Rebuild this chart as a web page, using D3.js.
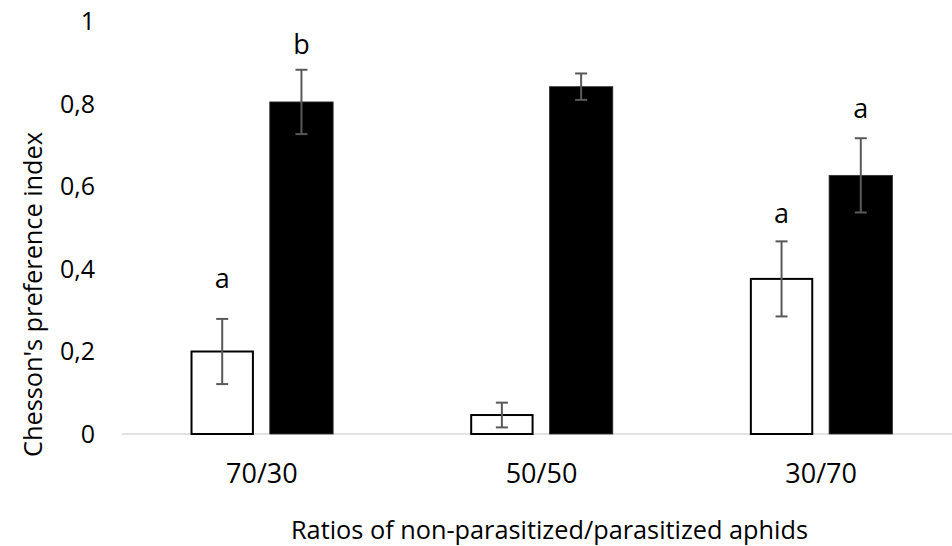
<!DOCTYPE html>
<html><head><meta charset="utf-8">
<script src="https://cdn.jsdelivr.net/npm/d3@7"></script>
<style>html,body{margin:0;padding:0;background:#fff;}svg{display:block;}</style>
</head><body><svg id="c" width="952" height="546"></svg>
<script>
const categories = ["70/30", "50/50", "30/70"];
const series = ["non-parasitized", "parasitized"];
const nonParasitized = [0.20, 0.046, 0.376];
const parasitized = [0.805, 0.842, 0.627];
const errNonParasitized = [0.079, 0.030, 0.091];
const errParasitized = [0.078, 0.032, 0.090];
const lettersNon = ["a", "", "a"];
const lettersPar = ["b", "", "a"];
const letterPosNon = [0.354, null, 0.512];
const letterPosPar = [0.921, null, 0.766];
const yTicks = [0, 0.2, 0.4, 0.6, 0.8, 1];
const yTickLabels = ["0", "0,2", "0,4", "0,6", "0,8", "1"];

const svg = d3.select("#c");
const font = "'Open Sans', 'Noto Sans', sans-serif";
const y = d3.scaleLinear().domain([0, 1]).range([434, 21.5]);
const x0 = d3.scaleBand().domain(categories).range([122, 961]).paddingInner(0.49).paddingOuter(0.245);
const x1 = d3.scaleBand().domain(series).range([0, x0.bandwidth()]).paddingInner(0.2);

const rows = categories.map((c, i) => ({
  cat: c,
  vals: [
    {s: series[0], v: nonParasitized[i], e: errNonParasitized[i], l: lettersNon[i], lp: letterPosNon[i]},
    {s: series[1], v: parasitized[i], e: errParasitized[i], l: lettersPar[i], lp: letterPosPar[i]}
  ]
}));

// baseline
svg.append("line").attr("x1", x0.range()[0]).attr("x2", 952)
  .attr("y1", y(0)).attr("y2", y(0)).attr("stroke", "#d9d9d9").attr("stroke-width", 1.5);

const g = svg.selectAll("g.grp").data(rows).join("g").attr("class", "grp")
  .attr("transform", d => `translate(${x0(d.cat)},0)`);

g.selectAll("rect").data(d => d.vals).join("rect")
  .attr("x", d => x1(d.s) + (d.s === series[0] ? 1 : 0))
  .attr("width", d => x1.bandwidth() - (d.s === series[0] ? 2 : 0))
  .attr("y", d => y(d.v))
  .attr("height", d => y(0) - y(d.v))
  .attr("fill", d => d.s === series[0] ? "#fff" : "#000")
  .attr("stroke", d => d.s === series[0] ? "#000" : "#333")
  .attr("stroke-width", d => d.s === series[0] ? 2 : 0.8);

const eb = g.selectAll("g.err").data(d => d.vals).join("g").attr("class", "err")
  .attr("stroke", "#595959").attr("stroke-width", 2);
eb.append("line").attr("x1", d => x1(d.s) + x1.bandwidth()/2).attr("x2", d => x1(d.s) + x1.bandwidth()/2)
  .attr("y1", d => y(d.v + d.e)).attr("y2", d => y(d.v - d.e));
eb.append("line").attr("x1", d => x1(d.s) + x1.bandwidth()/2 - 6).attr("x2", d => x1(d.s) + x1.bandwidth()/2 + 6)
  .attr("y1", d => y(d.v + d.e)).attr("y2", d => y(d.v + d.e));
eb.append("line").attr("x1", d => x1(d.s) + x1.bandwidth()/2 - 6).attr("x2", d => x1(d.s) + x1.bandwidth()/2 + 6)
  .attr("y1", d => y(d.v - d.e)).attr("y2", d => y(d.v - d.e));

g.selectAll("text.let").data(d => d.vals.filter(v => v.l)).join("text").attr("class", "let")
  .attr("x", d => x1(d.s) + x1.bandwidth()/2).attr("y", d => y(d.lp))
  .attr("text-anchor", "middle").attr("font-family", font).attr("font-size", 27).attr("fill", "#000")
  .text(d => d.l);

// y tick labels
svg.selectAll("text.yt").data(yTicks).join("text").attr("class", "yt")
  .attr("x", 95).attr("y", d => y(d)).attr("dy", "0.35em").attr("text-anchor", "end")
  .attr("font-family", font).attr("font-size", 25).attr("fill", "#000")
  .text((d, i) => yTickLabels[i]);

// x category labels
svg.selectAll("text.xt").data(categories).join("text").attr("class", "xt")
  .attr("x", d => x0(d) + x0.bandwidth()/2).attr("y", 483).attr("text-anchor", "middle")
  .attr("font-family", font).attr("font-size", 27).attr("fill", "#000").text(d => d);

svg.append("text").attr("x", 549.5).attr("y", 539).attr("text-anchor", "middle")
  .attr("font-family", font).attr("font-size", 25).attr("fill", "#000")
  .attr("textLength", 517).attr("lengthAdjust", "spacingAndGlyphs")
  .text("Ratios of non-parasitized/parasitized aphids");

svg.append("text").attr("transform", "translate(42,294.5) rotate(-90)").attr("text-anchor", "middle")
  .attr("font-family", font).attr("font-size", 25).attr("fill", "#000")
  .attr("textLength", 325).attr("lengthAdjust", "spacingAndGlyphs")
  .text("Chesson's preference index");
</script></body></html>
